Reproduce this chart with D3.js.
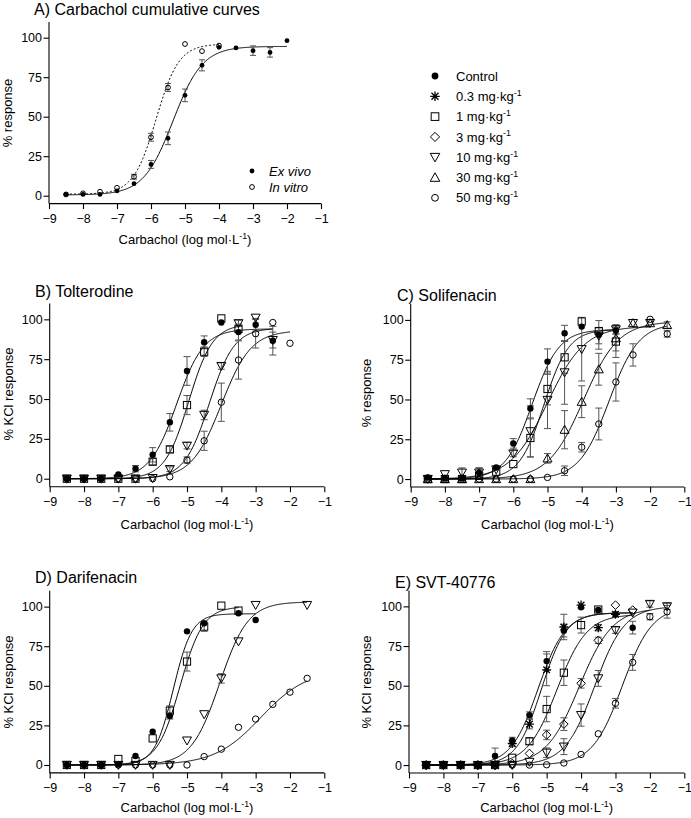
<!DOCTYPE html>
<html><head><meta charset="utf-8">
<script src="https://cdn.jsdelivr.net/npm/d3@7"></script>
<style>
body{margin:0;background:#fff}
text{font-family:"Liberation Sans",Arial,sans-serif;fill:#000}
</style>
</head><body>
<svg id="chart" width="691" height="818"></svg>
<script>
// ---------- shared axis data ----------
const logConc = [-8.5,-8,-7.5,-7,-6.5,-6,-5.5,-5,-4.5,-4,-3.5,-3,-2.5,-2,-1.5];
const xTicks = [-9,-8,-7,-6,-5,-4,-3,-2,-1];
const yTicks = [0,25,50,75,100];
const legendLabels = ["Control","0.3 mg·kg","1 mg·kg","3 mg·kg","10 mg·kg","30 mg·kg","50 mg·kg"];
const legendKeys = ["control","mg03","mg1","mg3","mg10","mg30","mg50"];

// ---------- Panel A ----------
const A_exVivo    = [0.8,0.8,0.8,3,7.6,19.8,36.3,63.5,82.5,93.9,93.5,91.8,90.7,98.1,null];
const A_exVivoErr = [0,0,0,0.5,0.5,2.5,4,4,3.5,1,0.5,3,3,0,null];
const A_exVivoFit = [0.5,94.5,-5.35,1.0,-8.5,-2];
const A_inVitro    = [0.8,1.5,2.5,5,12,37,68.5,96,91.5,95,null,null,null,null,null];
const A_inVitroErr = [0,0,0,0,1.5,2.5,2.5,0,0,0,null,null,null,null,null];
const A_inVitroFit = [1,96,-5.85,1.3,-8.5,-4];

// ---------- Panel B: Tolterodine ----------
const B_control    = [0,0,0,2.7,6.3,15,35.4,67.6,85.6,98,92,96.6,86.6,null,null];
const B_controlErr = [0,0,0,1,2,4.5,5.5,9,4,0,5,4,9,null,null];
const B_controlFit = [0,94,-5.3,1.1,-8.5,-2.5];
const B_mg1    = [0,0,0,0,0,10.7,18.4,46.2,79.7,100.6,94,null,null,null,null];
const B_mg1Err = [0,0,0,0,0,2,2,6,3,0,0,null,null,null,null];
const B_mg1Fit = [0,97,-4.95,1.25,-8.5,-3.5];
const B_mg10    = [0,0,0,0,0,0.4,6,20.7,40,70.7,97.5,101,87,null,null];
const B_mg10Err = [0,0,0,0,0,0,1.5,2,3,2,2,1,5,null,null];
const B_mg10Fit = [0,94.5,-4.35,1.2,-8.5,-2.5];
const B_mg50    = [0,0,0,0,0,0,1.2,11.7,23.8,48,74.5,91,98,85,null];
const B_mg50Err = [0,0,0,0,0,0,0,2,6,12,12,9,0,0,null];
const B_mg50Fit = [0,93,-4.0,1.0,-8.5,-2];

// ---------- Panel C: Solifenacin ----------
const C_control    = [1,0.5,0.5,4,7.3,22.4,44.4,73.8,91.6,95.8,90.6,93.3,null,null,null];
const C_controlErr = [0,0,0,3,1,3,6,8,5,1,9,2,null,null,null];
const C_controlFit = [0,94,-5.45,1.1,-8.5,-3];
const C_mg1    = [0,0,0,2,4.6,9.4,25.8,56.6,76.5,99,93,86.4,null,null,null];
const C_mg1Err = [0,0,0,0,0,1,12,10,10,0,0,10,null,null,null];
const C_mg1Fit = [0,94,-5.1,1.2,-8.5,-3];
const C_mg10    = [0,3,4,4,6,16,30,49.7,67,81.6,90,94,98,98,null];
const C_mg10Err = [0,1,3,3,1,2,16,18,20,20,5,3,1,1,null];
const C_mg10Fit = [0,96,-5.0,0.8,-8.5,-2];
const C_mg30    = [0,0,0,0,0,0,0,13,31,48.6,69,88.5,98,98,96.8];
const C_mg30Err = [0,0,0,0,0,0,0,3,12,10,10,8,1,1,2];
const C_mg30Fit = [0,99,-3.95,0.85,-8.5,-1.5];
const C_mg50    = [0,0,0,0,0,0,0,1,5.2,20,34.6,61,78,100.4,91.2];
const C_mg50Err = [0,0,0,0,0,0,0,1,3,3,10,12,7,1,2];
const C_mg50Fit = [0,98,-3.2,1.0,-8.5,-1.5];

// ---------- Panel D: Darifenacin ----------
const D_control    = [0,0,0,0.5,5.7,21,31,84.4,89.5,null,95.8,91.6,null,null,null];
const D_controlErr = [0,0,0,0,0,0,2,0,0,null,0,0,null,null,null];
const D_controlFit = [0,95.5,-5.4,1.6,-8.5,-3];
const D_mg1    = [0,0,0,3.8,2.5,16.8,34.3,65.3,87.4,100.6,97.5,null,null,null,null];
const D_mg1Err = [0,0,0,0,0,0,3,6,3,0,0,null,null,null,null];
const D_mg1Fit = [0,100,-5.2,1.3,-8.5,-3.5];
const D_mg10    = [0,0,0,0,0,0,0,15.4,32,54.7,78,101,null,null,101];
const D_mg10Err = [0,0,0,0,0,0,0,0,0,3,0,0,null,null,0];
const D_mg10Fit = [0,103,-4.05,1.05,-8.5,-1.5];
const D_mg50    = [0,0,0,0,0,0,0,0,5.3,10,23.8,29,38.3,46,54.7];
const D_mg50Err = [0,0,0,0,0,0,0,0,0,0,0,0,0,0,0];
const D_mg50Fit = [0,60,-2.85,0.65,-8.5,-1.5];

// ---------- Panel E: SVT-40776 ----------
const E_control    = [0,0,0,0,5.7,15.5,31.5,65.5,84.7,99.4,97.7,95,86.6,null,null];
const E_controlErr = [0,0,0,1,5,2,2,6,4,1,1,1,4,null,null];
const E_controlFit = [0,96,-5.25,1.1,-8.5,-2.5];
const E_mg03    = [0,0,0,0,0,13.6,25.8,60,87,100.8,86.6,95,null,null,null];
const E_mg03Err = [0,0,0,0,0,2,3,10,8,0,2,1,null,null,null];
const E_mg03Fit = [0,96,-5.15,1.2,-8.5,-2.5];
const E_mg1    = [0,0,0,0,0,4.6,15,35.3,58.2,88.2,98,null,null,null,null];
const E_mg1Err = [0,0,0,0,0,1,2,8,8,5,1,null,null,null,null];
const E_mg1Fit = [0,95,-4.7,1.0,-8.5,-2.5];
const E_mg3    = [0,0,0,0,0,1,7.3,19,25.8,51.5,78.6,100.8,97.7,null,null];
const E_mg3Err = [0,0,0,0,0,0,1,3,4,3,2,0,1,null,null];
const E_mg3Fit = [0,99,-4.05,0.9,-8.5,-2];
const E_mg10    = [0,0,0,0,0,0,2,7.8,11.6,31.5,54.6,85,96,101.5,100];
const E_mg10Err = [0,0,0,0,0,0,0,3,5,7,5,2,1,2,2];
const E_mg10Fit = [0,100,-3.6,1.0,-8.5,-1.5];
const E_mg50    = [0,0,0,0,0,0,0,0.2,1.3,6.7,19.7,38.9,64.7,93.5,96.6];
const E_mg50Err = [0,0,0,0,0,0,0,0,0,0,1,3,5,2,4];
const E_mg50Fit = [0,100,-2.8,1.0,-8.5,-1.5];

// ---------- panel definitions ----------
const panels = [
  {title:"A) Carbachol cumulative curves", tx:34, ty:15, ylabel:"% response", ylx:11.5, yly:113,
   x0:49, x1:321, yTop:21.9, yBot:203.6, xlabY:244, r:2.4, cap:3,
   series:[["control",A_exVivo,A_exVivoErr,A_exVivoFit,null],["mg50",A_inVitro,A_inVitroErr,A_inVitroFit,"2,2"]]},
  {title:"B) Tolterodine", tx:35, ty:297, ylabel:"% KCl response", ylx:12.5, yly:394,
   x0:49.7, x1:324.3, yTop:303.4, yBot:486.7, xlabY:529, r:3.2, cap:3.5,
   series:[["control",B_control,B_controlErr,B_controlFit],["mg1",B_mg1,B_mg1Err,B_mg1Fit],
           ["mg10",B_mg10,B_mg10Err,B_mg10Fit],["mg50",B_mg50,B_mg50Err,B_mg50Fit]]},
  {title:"C) Solifenacin", tx:397, ty:301, ylabel:"% response", ylx:371, yly:393,
   x0:410.7, x1:684.3, yTop:304, yBot:487, xlabY:529, r:3.2, cap:3.5,
   series:[["control",C_control,C_controlErr,C_controlFit],["mg1",C_mg1,C_mg1Err,C_mg1Fit],
           ["mg10",C_mg10,C_mg10Err,C_mg10Fit],["mg30",C_mg30,C_mg30Err,C_mg30Fit],["mg50",C_mg50,C_mg50Err,C_mg50Fit]]},
  {title:"D) Darifenacin", tx:35, ty:583, ylabel:"% KCl response", ylx:12.5, yly:682,
   x0:49.7, x1:324.3, yTop:590.8, yBot:772.9, xlabY:812, r:3.2, cap:3.5,
   series:[["control",D_control,D_controlErr,D_controlFit],["mg1",D_mg1,D_mg1Err,D_mg1Fit],
           ["mg10",D_mg10,D_mg10Err,D_mg10Fit],["mg50",D_mg50,D_mg50Err,D_mg50Fit]]},
  {title:"E) SVT-40776", tx:395, ty:588, ylabel:"% KCl response", ylx:371, yly:682,
   x0:409, x1:684.3, yTop:590.5, yBot:773, xlabY:812, r:3.2, cap:3.5,
   series:[["control",E_control,E_controlErr,E_controlFit],["mg03",E_mg03,E_mg03Err,E_mg03Fit],
           ["mg1",E_mg1,E_mg1Err,E_mg1Fit],["mg3",E_mg3,E_mg3Err,E_mg3Fit],
           ["mg10",E_mg10,E_mg10Err,E_mg10Fit],["mg50",E_mg50,E_mg50Err,E_mg50Fit]]}
];

const svg = d3.select("#chart");

function marker(g, key, x, y, r) {
  const s = r/3.2;
  if (key === "control") {
    g.append("circle").attr("cx",x).attr("cy",y).attr("r",r).attr("fill","#000");
  } else if (key === "mg50") {
    g.append("circle").attr("cx",x).attr("cy",y).attr("r",r).attr("fill","none").attr("stroke","#000").attr("stroke-width",1);
  } else if (key === "mg1") {
    const h = 3.6*s;
    g.append("rect").attr("x",x-h).attr("y",y-h).attr("width",2*h).attr("height",2*h)
      .attr("fill","none").attr("stroke","#000").attr("stroke-width",1);
  } else if (key === "mg3") {
    const h = 4.3*s;
    g.append("path").attr("d",`M${x},${y-h}L${x+h},${y}L${x},${y+h}L${x-h},${y}Z`)
      .attr("fill","none").attr("stroke","#000").attr("stroke-width",1);
  } else if (key === "mg10") {
    const w = 4.5*s;
    g.append("path").attr("d",`M${x-w},${y-3.6*s}L${x+w},${y-3.6*s}L${x},${y+4.4*s}Z`)
      .attr("fill","none").attr("stroke","#000").attr("stroke-width",1);
  } else if (key === "mg30") {
    const w = 4.5*s;
    g.append("path").attr("d",`M${x-w},${y+3.6*s}L${x+w},${y+3.6*s}L${x},${y-4.4*s}Z`)
      .attr("fill","none").attr("stroke","#000").attr("stroke-width",1);
  } else if (key === "mg03") {
    const a = 4.5*s, d = 3.3*s;
    g.append("path").attr("d",`M${x},${y-a}V${y+a}M${x-a},${y}H${x+a}M${x-d},${y-d}L${x+d},${y+d}M${x-d},${y+d}L${x+d},${y-d}`)
      .attr("fill","none").attr("stroke","#000").attr("stroke-width",1.3);
  }
}

function superText(sel, main, sup, size) {
  sel.append("tspan").text(main);
  sel.append("tspan").text(sup).attr("font-size", size*0.68).attr("dy", -size*0.4);
}

panels.forEach(p => {
  const x = d3.scaleLinear().domain([-9,-1]).range([p.x0, p.x1]);
  const y = d3.scaleLinear().domain([-5,110]).range([p.yBot, p.yTop]);
  const g = svg.append("g");

  // axes
  const xa = g.append("g").attr("transform",`translate(0,${p.yBot})`)
    .call(d3.axisBottom(x).tickValues(xTicks).tickFormat(d3.format("d")).tickSize(5.5).tickSizeOuter(0).tickPadding(5));
  const ya = g.append("g").attr("transform",`translate(${p.x0},0)`)
    .call(d3.axisLeft(y).tickValues(yTicks).tickSize(5.5).tickSizeOuter(0).tickPadding(1.5));
  [xa,ya].forEach(a => {
    a.selectAll("text").attr("font-size",12.5).attr("font-family","Liberation Sans, Arial, sans-serif").attr("fill","#000");
    a.selectAll("line,path").attr("stroke","#000").attr("stroke-width",1.1);
  });
  ya.select(".domain").attr("d",`M0,${p.yTop}V${p.yBot}`);
  xa.select(".domain").attr("d",`M${p.x0},0H${p.x1}`);

  // title
  g.append("text").attr("x",p.tx).attr("y",p.ty).attr("font-size",16).text(p.title);
  // x label
  const xl = g.append("text").attr("x",(p.x0+p.x1)/2).attr("y",p.xlabY).attr("text-anchor","middle").attr("font-size",13);
  superText(xl,"Carbachol (log mol·L","-1",13);
  xl.append("tspan").attr("dy",13*0.4).text(")");
  // y label
  g.append("text").attr("transform",`translate(${p.ylx},${p.yly}) rotate(-90)`).attr("text-anchor","middle")
    .attr("font-size",13).text(p.ylabel);

  // fitted curves
  const line = d3.line().x(d=>x(d[0])).y(d=>y(d[1]));
  p.series.forEach(s => {
    const [b,t,ec,h,from,to] = s[3];
    const pts = d3.range(from, to+0.0001, 0.02).map(v => [v, b+(t-b)/(1+Math.pow(10,(ec-v)*h))]);
    g.append("path").datum(pts).attr("d",line).attr("fill","none").attr("stroke","#000")
      .attr("stroke-width",1).attr("stroke-dasharray", s[4] || null);
  });
  // error bars
  p.series.forEach(s => {
    const vals = s[1], errs = s[2];
    logConc.forEach((c,i) => {
      const v = vals[i], e = errs[i];
      if (v == null || !e || e < 1.2) return;
      const xx = x(c), ya1 = y(v+e), ya2 = y(v-e);
      g.append("path").attr("d",`M${xx},${ya1}V${ya2}M${xx-p.cap},${ya1}H${xx+p.cap}M${xx-p.cap},${ya2}H${xx+p.cap}`)
        .attr("stroke","#555").attr("stroke-width",1).attr("fill","none");
    });
  });
  // markers
  p.series.forEach(s => {
    s[1].forEach((v,i) => {
      if (v == null) return;
      marker(g, s[0], x(logConc[i]), y(v), p.r);
    });
  });
});

// Panel A inline legend
const la = svg.append("g");
[["control","Ex vivo",171],["mg50","In vitro",187]].forEach(d => {
  marker(la, d[0], 252, d[2], 2.4);
  la.append("text").attr("x",269).attr("y",d[2]+4.5).attr("font-size",13).attr("font-style","italic").text(d[1]);
});

// Main legend
const lg = svg.append("g");
legendKeys.forEach((k,i) => {
  const yy = 76 + i*20.3;
  marker(lg, k, 435, yy, 3.4);
  const t = lg.append("text").attr("x",456).attr("y",yy+4.6).attr("font-size",13);
  if (i === 0) t.text(legendLabels[i]);
  else superText(t, legendLabels[i], "-1", 13);
});
</script>
</body></html>
